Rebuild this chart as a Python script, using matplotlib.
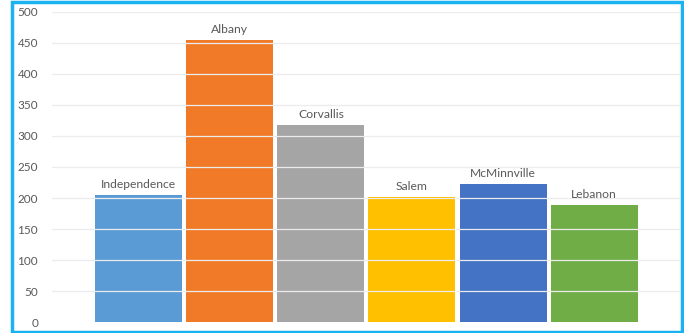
import matplotlib
matplotlib.use('Agg')
import matplotlib.pyplot as plt
from matplotlib.patches import Rectangle

# city counts
cities = ['Independence', 'Albany', 'Corvallis', 'Salem', 'McMinnville', 'Lebanon']
counts = [205, 455, 318, 202, 222, 188]
colors = ['#5b9bd5', '#f07a28', '#a5a5a5', '#ffc000', '#4472c4', '#70ad47']
yticks = list(range(0, 501, 50))

plt.rcParams['font.family'] = ['Lato', 'DejaVu Sans']

fig = plt.figure(figsize=(6.84, 3.33), dpi=100)
ax = fig.add_axes([0.076, 0.033, 0.918, 0.931])

x = range(len(cities))
bars = ax.bar(x, counts, width=0.955, color=colors, zorder=1)

# light grid drawn over the bars
for t in yticks[1:]:
    ax.axhline(t, color='#ececec', lw=0.9, zorder=2)

for b, name in zip(bars, cities):
    ax.text(b.get_x() + b.get_width() / 2, b.get_height() + 8, name,
            ha='center', va='bottom', fontsize=8.7, color='#595959')

ax.set_xlim(-0.95, 5.94)
ax.set_ylim(0, 500)
ax.set_yticks(yticks)
ax.set_xticks([])
ax.tick_params(axis='y', length=0, labelsize=8.5, labelcolor='#595959', pad=10)
for s in ax.spines.values():
    s.set_visible(False)

# frame around the chart
fig.patches.append(Rectangle((12 / 684, 1.5 / 333), 670.5 / 684, 330 / 333,
                             transform=fig.transFigure, fill=False,
                             edgecolor='#1ab2f0', lw=2.5, zorder=10))

fig.savefig('out.png', dpi=100)
